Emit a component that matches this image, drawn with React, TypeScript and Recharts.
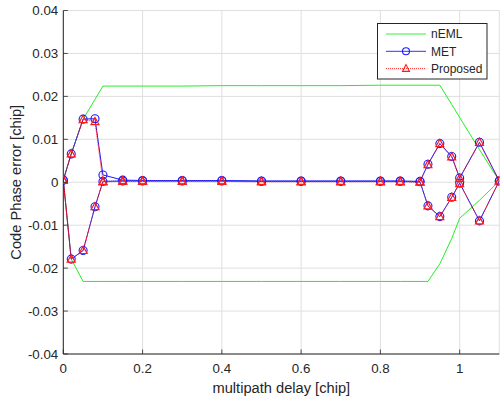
import { CartesianGrid, Line, LineChart, XAxis, YAxis } from "recharts";

const delays = [0, 0.02, 0.05, 0.08, 0.1, 0.15, 0.2, 0.3, 0.4, 0.5, 0.6, 0.7, 0.8, 0.85, 0.9, 0.92, 0.95, 0.98, 1.0, 1.05, 1.1];

const emlUpper = [0.0005, 0.0066, 0.0147, 0.0193, 0.0224, 0.0224, 0.0224, 0.0224, 0.0225, 0.0225, 0.0225, 0.0225, 0.0226, 0.0226, 0.0226, 0.0226, 0.0226, 0.0181, 0.0151, 0.0076, 0.0003];
const emlLower = [0.0005, -0.0179, -0.0231, -0.0231, -0.0231, -0.0231, -0.0231, -0.0231, -0.0231, -0.0231, -0.0231, -0.0231, -0.0231, -0.0231, -0.0231, -0.0231, -0.0190, -0.0131, -0.0084, -0.0042, 0.0003];

const metUpper = [0.0005, 0.0066, 0.0147, 0.0148, 0.0017, 0.0005, 0.0004, 0.0004, 0.0004, 0.0003, 0.0003, 0.0003, 0.0003, 0.0003, 0.0002, 0.0042, 0.009, 0.006, 0.001, 0.0093, 0.0003];
const metLower = [0.0005, -0.0179, -0.0159, -0.0057, 0.0002, 0.0003, 0.0003, 0.0003, 0.0003, 0.0002, 0.0002, 0.0002, 0.0002, 0.0002, 0.0001, -0.0055, -0.008, -0.0035, -0.0002, -0.009, 0.0003];

const propUpper = [0.0005, 0.0066, 0.0146, 0.0141, 0.0002, 0.0003, 0.0003, 0.0003, 0.0003, 0.0002, 0.0002, 0.0002, 0.0002, 0.0002, 0.0001, 0.0041, 0.009, 0.0059, 0.0009, 0.0093, 0.0003];
const propLower = [0.0005, -0.0179, -0.0159, -0.0057, 0.0001, 0.0002, 0.0002, 0.0002, 0.0002, 0.0001, 0.0001, 0.0001, 0.0001, 0.0001, 0.0, -0.0055, -0.008, -0.0035, -0.0003, -0.009, 0.0003];

const xTicks = [0, 0.2, 0.4, 0.6, 0.8, 1];
const yTicks = [-0.04, -0.03, -0.02, -0.01, 0, 0.01, 0.02, 0.03, 0.04];

const data = delays.map((d, i) => ({
  delay: d,
  emlUp: emlUpper[i],
  emlDown: emlLower[i],
  metUp: metUpper[i],
  metDown: metLower[i],
  propUp: propUpper[i],
  propDown: propLower[i],
}));

const AXIS = "#262626";
const FONT = '"Liberation Sans", Arial, Helvetica, sans-serif';
const GREEN = "#22ee22";
const BLUE = "#1a1aff";
const RED = "#ff1a1a";

const BottomTick = ({ x, y, payload }: any) => (
  <g>
    <line x1={x} y1={y} x2={x} y2={y - 4.5} stroke={AXIS} strokeWidth={0.8} />
    <text x={x} y={y + 19} textAnchor="middle" fontSize={13.33} fill={AXIS} fontFamily={FONT}>
      {String(payload.value)}
    </text>
  </g>
);

const LeftTick = ({ x, y, payload }: any) => (
  <g>
    <line x1={x} y1={y} x2={x + 4.5} y2={y} stroke={AXIS} strokeWidth={0.8} />
    <text x={x - 5} y={y + 4.7} textAnchor="end" fontSize={13.33} fill={AXIS} fontFamily={FONT}>
      {String(payload.value)}
    </text>
  </g>
);

const TopTick = ({ x, y }: any) => (
  <line x1={x} y1={y} x2={x} y2={y + 4.5} stroke={AXIS} strokeWidth={0.8} />
);

const RightTick = ({ x, y }: any) => (
  <line x1={x} y1={y} x2={x - 4.5} y2={y} stroke={AXIS} strokeWidth={0.8} />
);

// MATLAB-style '^' marker
const triangle = (props: any) => {
  const { cx, cy, index } = props;
  return (
    <polygon
      key={index}
      points={`${cx},${cy - 4.3} ${cx - 4},${cy + 3} ${cx + 4},${cy + 3}`}
      fill="none"
      stroke={RED}
      strokeWidth={1.2}
    />
  );
};

const circleDot = { r: 4, stroke: BLUE, strokeWidth: 1.1, fill: "none" };

function LegendBox() {
  const rows = [
    { name: "nEML", color: GREEN, dash: undefined, marker: null },
    { name: "MET", color: BLUE, dash: undefined, marker: "o" },
    { name: "Proposed", color: RED, dash: "1 1", marker: "^" },
  ];
  return (
    <svg
      width={111}
      height={57}
      style={{ position: "absolute", left: 377, top: 23, fontFamily: FONT }}
    >
      <rect x={0.5} y={0.5} width={109.5} height={55.5} fill="#fff" stroke={AXIS} strokeWidth={1} />
      {rows.map((r, i) => {
        const cy = 11 + i * 17.3;
        return (
          <g key={r.name}>
            <line x1={9} y1={cy} x2={49} y2={cy} stroke={r.color} strokeWidth={0.9} strokeDasharray={r.dash} />
            {r.marker === "o" && <circle cx={29} cy={cy} r={3.5} fill="none" stroke={r.color} strokeWidth={1.1} />}
            {r.marker === "^" && (
              <polygon
                points={`29,${cy - 4} 25.5,${cy + 2.8} 32.5,${cy + 2.8}`}
                fill="none"
                stroke={r.color}
                strokeWidth={1.1}
              />
            )}
            <text x={54} y={cy + 4.2} fontSize={12} fill={AXIS}>
              {r.name}
            </text>
          </g>
        );
      })}
    </svg>
  );
}

export default function App() {
  return (
    <div style={{ position: "absolute", left: 0, top: 0, width: 500, height: 403, background: "#fff" }}>
      <LineChart
        width={500}
        height={403}
        data={data}
        margin={{ top: 10.5, right: 0.7, bottom: 0, left: 0 }}
      >
        <CartesianGrid stroke="#dfdfdf" strokeWidth={1} />
        <XAxis
          dataKey="delay"
          type="number"
          domain={[0, 1.1]}
          ticks={xTicks}
          allowDataOverflow
          height={49}
          tickSize={0}
          tickMargin={0}
          tick={<BottomTick />}
          axisLine={{ stroke: AXIS, strokeWidth: 1 }}
          label={{
            value: "multipath delay [chip]",
            position: "insideBottom",
            offset: 10,
            style: { fontSize: 14.67, fill: AXIS, fontFamily: FONT },
          }}
        />
        <XAxis
          xAxisId="top"
          orientation="top"
          dataKey="delay"
          type="number"
          domain={[0, 1.1]}
          ticks={xTicks}
          allowDataOverflow
          height={0}
          tickSize={0}
          tickMargin={0}
          tick={<TopTick />}
          axisLine={{ stroke: AXIS, strokeWidth: 1 }}
        />
        <YAxis
          type="number"
          domain={[-0.04, 0.04]}
          ticks={yTicks}
          allowDataOverflow
          width={63.3}
          tickSize={0}
          tickMargin={0}
          tick={<LeftTick />}
          axisLine={{ stroke: AXIS, strokeWidth: 1 }}
          label={{
            value: "Code Phase error [chip]",
            angle: -90,
            position: "insideLeft",
            offset: 16,
            style: { textAnchor: "middle", fontSize: 14.67, fill: AXIS, fontFamily: FONT },
          }}
        />
        <YAxis
          yAxisId="right"
          orientation="right"
          type="number"
          domain={[-0.04, 0.04]}
          ticks={yTicks}
          allowDataOverflow
          width={0}
          tickSize={0}
          tickMargin={0}
          tick={<RightTick />}
          axisLine={{ stroke: AXIS, strokeWidth: 1 }}
        />
        <Line dataKey="emlUp" stroke={GREEN} strokeWidth={1} dot={false} isAnimationActive={false} />
        <Line dataKey="emlDown" stroke={GREEN} strokeWidth={1} dot={false} isAnimationActive={false} />
        <Line dataKey="metUp" stroke={BLUE} strokeWidth={1} dot={circleDot} isAnimationActive={false} />
        <Line dataKey="metDown" stroke={BLUE} strokeWidth={1} dot={circleDot} isAnimationActive={false} />
        <Line dataKey="propUp" stroke={RED} strokeWidth={1} strokeDasharray="1 1" dot={triangle} isAnimationActive={false} />
        <Line dataKey="propDown" stroke={RED} strokeWidth={1} strokeDasharray="1 1" dot={triangle} isAnimationActive={false} />
      </LineChart>
      <LegendBox />
    </div>
  );
}
